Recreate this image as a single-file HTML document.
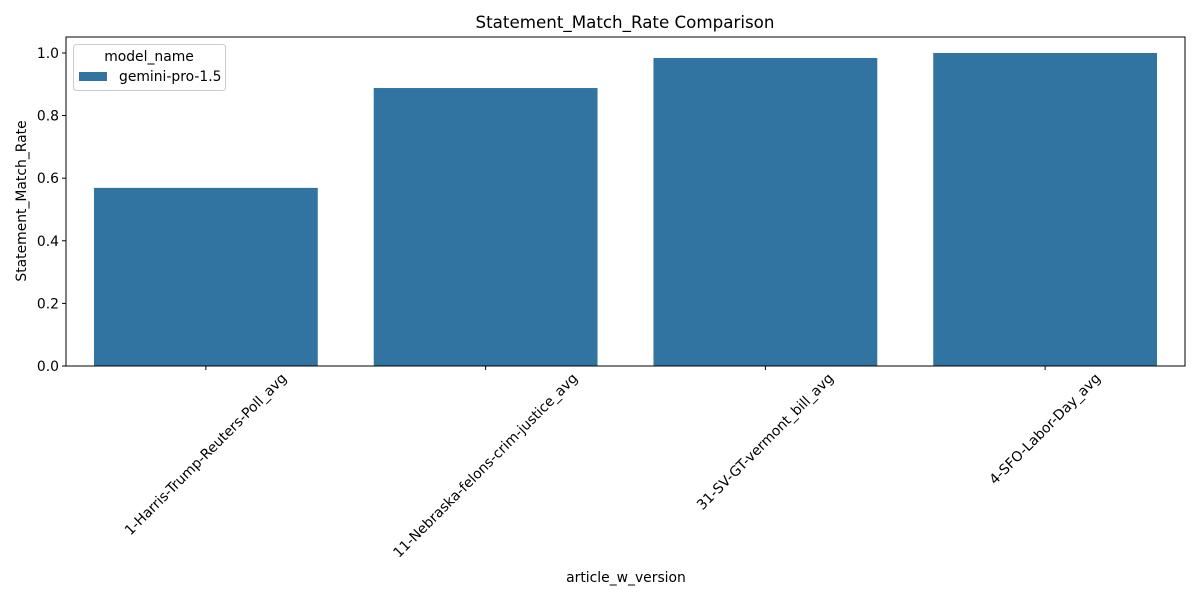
<!DOCTYPE html>
<html><head><meta charset="utf-8"><style>
body{margin:0;background:#fff}
svg{font-family:"DejaVu Sans","Liberation Sans",sans-serif}
</style></head><body>
<svg id="chart" width="1200" height="600" xmlns="http://www.w3.org/2000/svg">
<text x="625" y="28" font-size="16.7" text-anchor="middle">Statement_Match_Rate Comparison</text>
<g id="bars"></g>
<g id="yticks"></g>
<g id="xticks"></g>
<rect x="66" y="37" width="1119" height="329" fill="none" stroke="#000" stroke-width="1"/>
<text x="626" y="582" font-size="13.9" text-anchor="middle">article_w_version</text>
<text transform="translate(26,201) rotate(-90)" font-size="13.9" text-anchor="middle">Statement_Match_Rate</text>
<g>
<rect x="73.5" y="44.5" width="152" height="46" rx="3" fill="#fff" fill-opacity="0.8" stroke="#ccc"/>
<text x="149" y="61" font-size="13.9" text-anchor="middle">model_name</text>
<rect x="79" y="72" width="28" height="9" fill="#3274a1"/>
<text x="119" y="81" font-size="13.9">gemini-pro-1.5</text>
</g>
</svg>
<script>
const categories=["1-Harris-Trump-Reuters-Poll_avg","11-Nebraska-felons-crim-justice_avg","31-SV-GT-vermont_bill_avg","4-SFO-Labor-Day_avg"];
const values=[0.569,0.888,0.984,1.0];
const yTicks=[0,0.2,0.4,0.6,0.8,1.0];
const yTickLabels=["0.0","0.2","0.4","0.6","0.8","1.0"];
const NS="http://www.w3.org/2000/svg";
const L=66,R=1185,T=37,B=366,yMax=1.051;
const y=v=>B-(v/yMax)*(B-T);
const band=(R-L)/categories.length;
const xc=i=>L+band*(i+0.5);
const bars=document.getElementById('bars');
values.forEach((v,i)=>{
 const r=document.createElementNS(NS,'rect');
 r.setAttribute('x',xc(i)-band*0.4);r.setAttribute('width',band*0.8);
 r.setAttribute('y',y(v));r.setAttribute('height',B-y(v));r.setAttribute('fill','#3274a1');
 
 
 bars.appendChild(r);
});
const yt=document.getElementById('yticks');
yTicks.forEach((v,i)=>{
 const l=document.createElementNS(NS,'line');
 l.setAttribute('x1',L-4);l.setAttribute('x2',L);l.setAttribute('y1',y(v));l.setAttribute('y2',y(v));l.setAttribute('stroke','#000');
 
 
 yt.appendChild(l);
 const t=document.createElementNS(NS,'text');
 t.setAttribute('x',L-7);t.setAttribute('y',y(v)+5);t.setAttribute('font-size','13.9');t.setAttribute('text-anchor','end');
 t.textContent=yTickLabels[i];
 
 
 yt.appendChild(t);
});
const xt=document.getElementById('xticks');
categories.forEach((c,i)=>{
 const x=xc(i);
 const l=document.createElementNS(NS,'line');
 l.setAttribute('x1',x);l.setAttribute('x2',x);l.setAttribute('y1',B);l.setAttribute('y2',B+4);l.setAttribute('stroke','#000');
 
 
 xt.appendChild(l);
 const t=document.createElementNS(NS,'text');
 t.setAttribute('font-size','13.9');t.setAttribute('text-anchor','middle');
 t.textContent=c;
 
 
 xt.appendChild(t);
 const len=t.getComputedTextLength();
 const half=len*0.7071/2+5;
 t.setAttribute('transform','translate('+(x+3)+','+(B+8+half)+') rotate(-45)');
});
</script>
</body></html>
